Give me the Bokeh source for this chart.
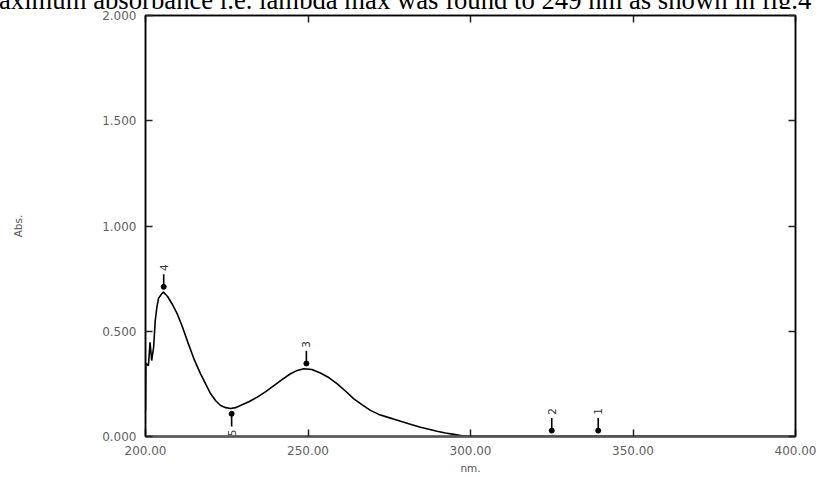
from bokeh.plotting import figure
from bokeh.models import LinearAxis, FixedTicker, Div
from bokeh.layouts import column
from bokeh.core.properties import value
from bokeh.embed import file_html
from bokeh.resources import INLINE

# spectrum (wavelength nm, absorbance)
wavelength = [200.0, 200.1, 200.9, 201.4, 201.9, 202.5, 203.0, 203.5, 204.0, 205.0, 205.5,
              206.8, 208.1, 209.7, 211.2, 213.2, 215.0, 216.9, 218.5, 220.0, 221.6, 223.1,
              224.7, 226.2, 227.7, 229.2, 231.8, 234.4, 237.0, 239.5, 242.0, 244.6, 246.7,
              248.7, 251.2, 253.8, 256.4, 259.0, 261.6, 264.1, 266.7, 269.2, 271.8, 274.4,
              277.0, 279.5, 282.0, 284.6, 287.2, 289.7, 292.3, 294.9, 297.4, 300.0, 330.0,
              370.0, 400.0]
absorbance = [0.124, 0.347, 0.337, 0.448, 0.361, 0.424, 0.551, 0.614, 0.656, 0.678, 0.686,
              0.665, 0.632, 0.585, 0.527, 0.440, 0.365, 0.299, 0.250, 0.204, 0.170, 0.147,
              0.137, 0.133, 0.137, 0.147, 0.165, 0.187, 0.213, 0.242, 0.270, 0.298, 0.314,
              0.322, 0.318, 0.302, 0.280, 0.250, 0.215, 0.179, 0.150, 0.124, 0.105, 0.092,
              0.080, 0.068, 0.056, 0.044, 0.034, 0.025, 0.017, 0.010, 0.003, 0.001, 0.001,
              0.001, 0.001]

# peak / valley picks
pick_nm = [339.3, 325.0, 249.5, 205.6, 226.5]
pick_abs = [0.003, 0.003, 0.322, 0.686, 0.133]
pick_labels = ["1", "2", "3", "4", "5"]
pick_kind = ["peak", "peak", "peak", "peak", "valley"]

x_ticks = [200, 250, 300, 350, 400]
x_tick_labels = ["200.00", "250.00", "300.00", "350.00", "400.00"]
y_ticks = [0.0, 0.5, 1.0, 1.5, 2.0]
y_tick_labels = ["0.000", "0.500", "1.000", "1.500", "2.000"]

caption = "aximum absorbance i.e. lambda max was found to 249 nm as shown in fig.4"

# ---- caption strip (the cut-off sentence above the chart) ----
top = Div(text='<div style="position:relative; top:-15px; left:-1px; white-space:nowrap; '
               'font-family:\'Liberation Serif\'; font-size:26.7px; line-height:30px; '
               'color:black;">' + caption + '</div>',
          width=821, height=9, margin=0,
          styles={"overflow": "hidden"})

# ---- main chart ----
p = figure(width=821, height=468, output_backend="svg", toolbar_location=None,
           x_range=(200, 400), y_range=(0, 2),
           min_border_left=145, min_border_right=26, min_border_top=6, min_border_bottom=41)
p.grid.visible = False
p.outline_line_color = "black"
p.outline_line_width = 1.5
p.background_fill_color = "white"

for ax in (p.xaxis[0], p.yaxis[0]):
    ax.major_tick_in = 7
    ax.major_tick_out = 0
    ax.minor_tick_in = 0
    ax.minor_tick_out = 0
    ax.major_label_text_font = "DejaVu Sans"
    ax.major_label_text_font_size = "12px"
    ax.major_label_text_color = "#5f5f5f"
    ax.axis_line_color = "#555555"
    ax.axis_line_width = 2.5
    ax.major_tick_line_color = "#222222"
    ax.major_tick_line_width = 1.5
    ax.axis_label_text_font = "DejaVu Sans"
    ax.axis_label_text_font_style = "normal"
    ax.axis_label_text_font_size = "10.5px"
    ax.axis_label_text_color = "#555555"

p.xaxis[0].ticker = FixedTicker(ticks=x_ticks)
p.xaxis[0].major_label_overrides = dict(zip(x_ticks, x_tick_labels))
p.xaxis[0].major_label_standoff = 9
p.xaxis[0].axis_label = "nm."
p.xaxis[0].axis_label_standoff = 4

p.yaxis[0].ticker = FixedTicker(ticks=y_ticks)
p.yaxis[0].major_label_overrides = dict(zip(y_ticks, y_tick_labels))
p.yaxis[0].major_label_standoff = 9
p.yaxis[0].axis_label = "Abs."
p.yaxis[0].axis_label_standoff = 75
p.yaxis[0].axis_line_color = "black"
p.yaxis[0].axis_line_width = 1.5

for loc, tk in (("above", x_ticks), ("right", y_ticks)):
    ax = LinearAxis(ticker=FixedTicker(ticks=tk), major_tick_in=7, major_tick_out=0,
                    minor_tick_in=0, minor_tick_out=0, major_label_text_font_size="0px",
                    major_label_standoff=0, axis_line_color="black", axis_line_width=1.5,
                    major_tick_line_color="#222222", major_tick_line_width=1.5)
    p.add_layout(ax, loc)

p.line(wavelength, absorbance, line_color="black", line_width=1.6)

# pick markers: arrow stem, dot and rotated number
for nm_, a, lab, k in zip(pick_nm, pick_abs, pick_labels, pick_kind):
    if k == "peak":
        d = 0.025
        p.segment(x0=[nm_], y0=[a + d], x1=[nm_], y1=[a + d + 0.06],
                  line_color="black", line_width=1.6)
        p.scatter([nm_], [a + d], size=5, color="black")
        p.text([nm_], [a + d + 0.075], text=[lab], angle=1.5708,
               text_font=value("DejaVu Sans"), text_font_size="10.5px",
               text_color="#333333", text_align="left", text_baseline="middle")
    else:
        d = 0.025
        p.segment(x0=[nm_], y0=[a - d], x1=[nm_], y1=[a - d - 0.06],
                  line_color="black", line_width=1.6)
        p.scatter([nm_], [a - d], size=5, color="black")
        p.text([nm_], [a - d - 0.075], text=[lab], angle=1.5708,
               text_font=value("DejaVu Sans"), text_font_size="10.5px",
               text_color="#333333", text_align="right", text_baseline="middle")

layout = column(top, p, spacing=0)
open("out.html", "w").write(file_html(layout, INLINE))
